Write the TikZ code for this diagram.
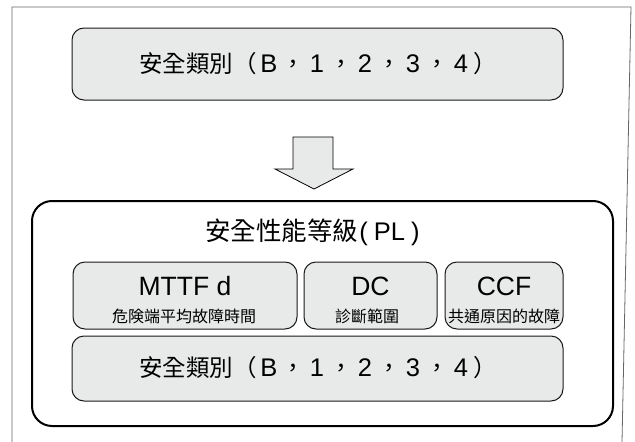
\documentclass[tikz,border=0pt]{standalone}
\usepackage{fontspec}
\newfontfamily\cjk{Noto Sans CJK TC}
\newfontfamily\lat{Liberation Sans}
\definecolor{boxgray}{HTML}{E8E9E9}
\definecolor{framegray}{HTML}{666666}
\newcommand\fwc[1]{\makebox[24pt]{#1}}
\newcommand\dg[1]{\fwc{\lat\fontsize{25.5}{28}\selectfont #1}}
\newcommand\catlabel{\fontsize{23.5}{27}\selectfont{\cjk 安全類別}\fwc{\cjk （}\dg{B}\fwc{\cjk ，}\dg{1}\fwc{\cjk ，}\dg{2}\fwc{\cjk ，}\dg{3}\fwc{\cjk ，}\dg{4}\fwc{\cjk ）}}
\tikzset{
  grybox/.style={draw=black!90, line width=1pt, fill=boxgray, rounded corners=12pt},
  bigbox/.style={draw=black, line width=2pt, rounded corners=20pt},
  lbl/.style={inner sep=0pt, anchor=center},
}
\begin{document}
\begin{tikzpicture}[x=1pt,y=-1pt]
\useasboundingbox (0,0) rectangle (635,442);
% frame
\draw[framegray, line width=0.8pt] (12,442) -- (12,7) -- (631,7) -- (622,442);
% top box
\draw[grybox] (72,28) rectangle (563,100);
\node[lbl] (top) at (318,64) {\catlabel};
% arrow
\draw[fill=boxgray, draw=black, line width=0.8pt] (293,137) -- (333,137) -- (333,169) -- (353,169) -- (314,189) -- (275,169) -- (293,169) -- cycle;
% outer box
\draw[bigbox] (32,201) rectangle (613,426);
\node[lbl] (pl) at (312.5,232) {\fontsize{25.5}{29}\selectfont{\cjk 安全性能等級}{\lat\kern1pt(\kern6pt PL\kern6pt)}};
% small boxes
\draw[grybox] (73,262) rectangle (297,329);
\draw[grybox] (304,262) rectangle (437,329);
\draw[grybox] (445,262) rectangle (563,329);
\node[lbl] (m1) at (185,286) {\lat\fontsize{26.5}{30}\selectfont MTTF d};
\node[lbl] (m2) at (184,316) {\cjk\fontsize{16}{18}\selectfont 危険端平均故障時間};
\node[lbl] (d1) at (370.5,286) {\lat\fontsize{26.5}{30}\selectfont DC};
\node[lbl] (d2) at (367,316) {\cjk\fontsize{16}{18}\selectfont 診斷範圍};
\node[lbl] (c1) at (504,286) {\lat\fontsize{26.5}{30}\selectfont CCF};
\node[lbl] (c2) at (504,316) {\cjk\fontsize{16}{18}\selectfont 共通原因的故障};
% bottom box
\draw[grybox] (72,336) rectangle (563,401);
\node[lbl] (bot) at (318,368) {\catlabel};
\end{tikzpicture}
\end{document}
